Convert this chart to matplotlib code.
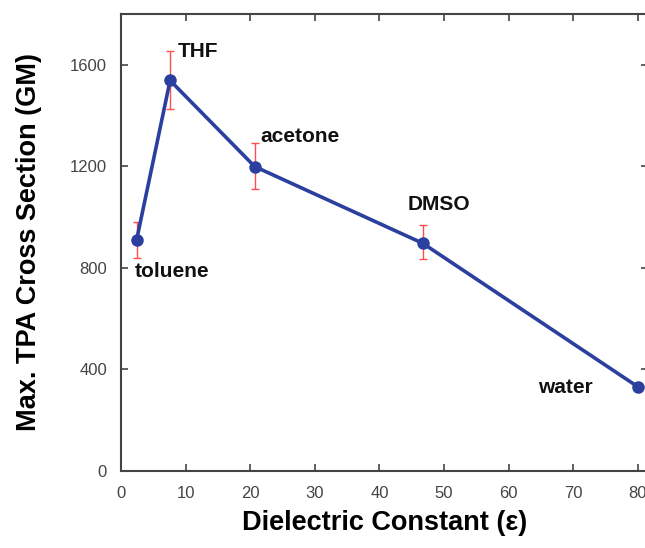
import matplotlib
matplotlib.use("Agg")
import matplotlib.pyplot as plt

solvents = ["toluene", "THF", "acetone", "DMSO", "water"]
dielectric = [2.4, 7.6, 20.7, 46.7, 80.1]
tpa = [908, 1538, 1199, 897, 330]
err_low = [68, 113, 88, 62, 15]
err_high = [73, 117, 92, 70, 15]
x_ticks = [0, 10, 20, 30, 40, 50, 60, 70, 80]
y_ticks = [0, 400, 800, 1200, 1600]

# label offsets (data units) relative to each point
label_dx = [-0.2, 1.2, 0.8, -2.3, -15.6]
label_dy = [-122, 116, 119, 153, -2]

plt.rcParams['font.family'] = ['Liberation Sans', 'DejaVu Sans']

fig = plt.figure(figsize=(6.45, 5.48), dpi=100)
ax = fig.add_axes([0.1876, 0.1405, 0.8163, 0.834])

blue = "#2b3f9e"
ax.errorbar(dielectric, tpa, yerr=[err_low, err_high], fmt='none',
            ecolor="#ff4d4d", elinewidth=1.0, capsize=3, capthick=1.0, zorder=2)
ax.plot(dielectric, tpa, '-o', color=blue, lw=2.6, ms=8, mfc=blue, mec=blue,
        zorder=3, clip_on=False)

for s, x, y, dx, dy in zip(solvents, dielectric, tpa, label_dx, label_dy):
    ax.text(x + dx, y + dy, s, fontsize=15, fontweight='bold', color='#111111',
            ha='left', va='center')

ax.set_xlim(0, 81.5)
ax.set_ylim(0, 1800)
ax.set_xticks(x_ticks)
ax.set_yticks(y_ticks)
ax.tick_params(direction='in', top=True, right=True, length=5, width=1.2,
               color='#444444', labelcolor='#444444', labelsize=12)
ax.tick_params(axis='y', pad=10)
ax.tick_params(axis='x', pad=11)
for sp in ax.spines.values():
    sp.set_color('#444444')
    sp.set_linewidth(1.5)

ax.set_xlabel("Dielectric Constant (ε)", fontsize=19.5, fontweight='bold', labelpad=6)
ax.set_ylabel("Max. TPA Cross Section (GM)", fontsize=19.5, fontweight='bold', labelpad=20)

fig.savefig("out.png", dpi=100)
